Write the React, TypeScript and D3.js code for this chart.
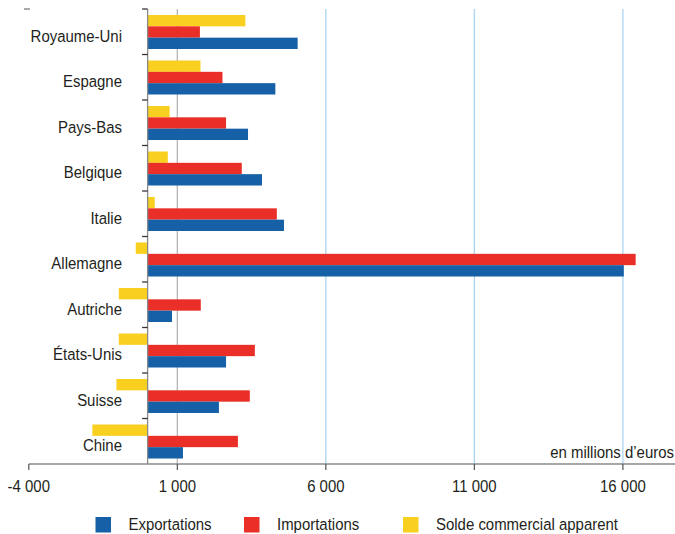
import React from "react";
import * as d3 from "d3";

const categories = ["Royaume-Uni", "Espagne", "Pays-Bas", "Belgique", "Italie", "Allemagne", "Autriche", "États-Unis", "Suisse", "Chine"];
const exportations = [5050, 4300, 3380, 3850, 4590, 16030, 820, 2640, 2400, 1190];
const importations = [1760, 2520, 2640, 3170, 4350, 16430, 1790, 3610, 3440, 3040];
const solde = [3290, 1780, 740, 680, 240, -400, -970, -970, -1050, -1860];
const xTicks = [-4000, 1000, 6000, 11000, 16000];
const seriesNames = ["Exportations", "Importations", "Solde commercial apparent"];
const seriesColors = ["#1560a6", "#ea2f28", "#f9d01f"];

const W = 675;
const H = 534;
const FONT = "'Liberation Sans', Arial, Helvetica, sans-serif";
const TEXT = "#231f20";
const SX = 0.88;

function fmt(v: number) {
  const s = d3.format(",")(v);
  return s.replace(/,/g, " ").replace("−", "-");
}

export default function App() {
  const x = d3.scaleLinear().domain([-4000, 16000]).range([28.8, 622.9]);
  const y = d3.scaleBand<string>().domain(categories).range([9, 464]).padding(0);
  const inner = d3.scaleBand<string>().domain(["s", "i", "e"]).range([6, 40]).padding(0);
  const x0 = x(0);
  const top = 9;
  const bottom = 464;

  const bars: { key: string; v: number; color: string }[][] = categories.map((_, i) => [
    { key: "s", v: solde[i], color: seriesColors[2] },
    { key: "i", v: importations[i], color: seriesColors[1] },
    { key: "e", v: exportations[i], color: seriesColors[0] },
  ]);

  const legendX = [95.5, 244, 403];
  const legendTextX = [128.5, 277, 436];

  const ctext = (tx: number, ty: number, content: string, anchor: string, key?: string | number, size = 17) => (
    <text
      key={key}
      transform={`translate(${tx},${ty}) scale(${SX},1)`}
      textAnchor={anchor as any}
      fontFamily={FONT}
      fontSize={size}
      fill={TEXT}
    >
      {content}
    </text>
  );

  return (
    <div style={{ position: "absolute", left: 0, top: 0 }}>
      <svg width={W} height={H} style={{ display: "block", background: "#fff" }}>
        {/* gridlines */}
        {xTicks.filter((t) => t > -4000).map((t, i) => (
          <line
            key={"g" + t}
            x1={x(t)}
            x2={x(t)}
            y1={top}
            y2={bottom}
            stroke={t === 1000 ? "#b5b5b5" : "#a9d5f3"}
            strokeWidth={1.3}
          />
        ))}
        {/* bars */}
        {categories.map((c, ci) => (
          <g key={c} transform={`translate(0,${y(c)})`}>
            {bars[ci].map((b) => (
              <rect
                key={b.key}
                x={Math.min(x(b.v), x0)}
                y={inner(b.key)}
                width={Math.abs(x(b.v) - x0)}
                height={inner.bandwidth()}
                fill={b.color}
              />
            ))}
          </g>
        ))}
        {/* y axis */}
        <line x1={x0} x2={x0} y1={top} y2={bottom} stroke="#8a8a8a" strokeWidth={1.3} />
        {categories.map((c) => (
          <line key={"yt" + c} x1={x0 - 5.5} x2={x0} y1={y(c)!} y2={y(c)!} stroke="#333" strokeWidth={1.3} />
        ))}
        <line x1={24} x2={30} y1={9} y2={9} stroke="#555" strokeWidth={1} />
        {categories.map((c, i) => ctext(122, (y(c) as number) + 32.7, c, "end", "cl" + i))}
        {/* x axis */}
        <line x1={x(-4000)} x2={W} y1={bottom} y2={bottom} stroke="#8a8a8a" strokeWidth={1.5} />
        {xTicks.map((t) => (
          <line key={"xt" + t} x1={x(t)} x2={x(t)} y1={bottom} y2={bottom + 6} stroke="#555" strokeWidth={1.2} />
        ))}
        {xTicks.map((t) => ctext(x(t), 492, fmt(t), "middle", "xl" + t))}
        {ctext(674, 458, "en millions d’euros", "end", "unit")}
        {/* legend */}
        {seriesNames.map((n, i) => (
          <g key={"lg" + i}>
            <rect x={legendX[i]} y={517} width={15.5} height={15.5} fill={seriesColors[i]} />
            {ctext(legendTextX[i], 530, n, "start")}
          </g>
        ))}
      </svg>
    </div>
  );
}
